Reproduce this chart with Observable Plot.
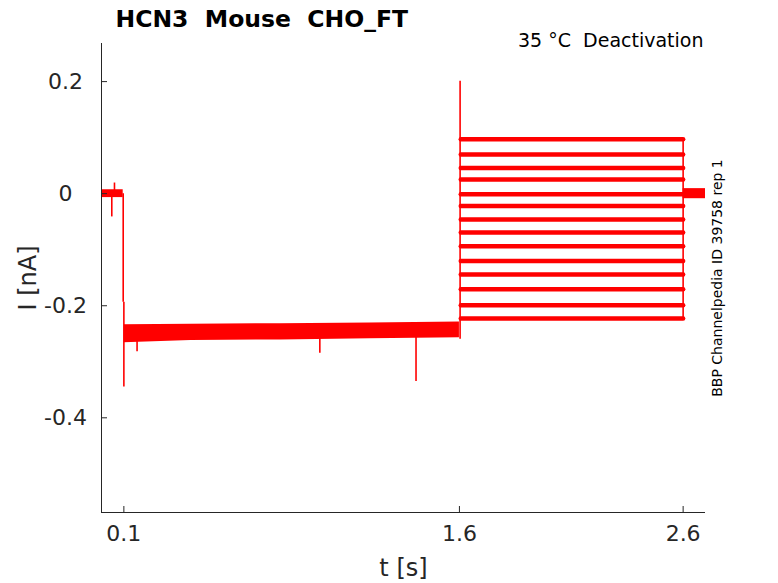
<!DOCTYPE html>
<html>
<head>
<meta charset="utf-8">
<script src="https://cdn.jsdelivr.net/npm/d3@7"></script>
<script src="https://cdn.jsdelivr.net/npm/@observablehq/plot@0.6"></script>
<style>
  html, body { margin: 0; padding: 0; background: white; overflow: hidden; }
  svg text { white-space: pre; }
</style>
</head>
<body>
<div id="chart"></div>
<script>
// ---- data ----
const timeTicks = [0.1, 1.6, 2.6];
const currentTicks = [0.2, 0, -0.2, -0.4];

// holding segment before the conditioning step (noise envelope)
const holdT  = [0.0, 0.097];
const holdHi = [0.007, 0.007];
const holdLo = [-0.007, -0.007];

// conditioning step 0.1 s .. 1.6 s (noise envelope of all sweeps)
const condT  = [0.101, 0.4, 0.8, 1.2, 1.6];
const condHi = [-0.234, -0.233, -0.232, -0.231, -0.229];
const condLo = [-0.266, -0.262, -0.261, -0.259, -0.257];

// test pulses 1.6 s .. 2.6 s, one level per sweep
const testT = [1.606, 2.6];
const testLevels = [0.097, 0.0697, 0.0458, 0.0251, -0.0011, -0.0219, -0.0462,
                    -0.0694, -0.0938, -0.120, -0.1443, -0.1705, -0.199, -0.2228];

// return to holding after 2.6 s
const tailT  = [2.6, 2.7];
const tailHi = [0.009, 0.009];
const tailLo = [-0.009, -0.009];

// transients / spikes
const spikeT    = [0.046, 0.058, 0.097, 0.100, 0.159, 0.976, 1.406, 1.603, 2.600];
const spikeFrom = [-0.005, 0.005, 0.0, -0.194, -0.250, -0.255, -0.255, -0.260, -0.2228];
const spikeTo   = [-0.0415, 0.019, -0.194, -0.345, -0.282, -0.285, -0.335, 0.2005, 0.097];

// ---- tables built from the arrays ----
const hold = holdT.map((t, k) => ({t, hi: holdHi[k], lo: holdLo[k]}));
const cond = condT.map((t, k) => ({t, hi: condHi[k], lo: condLo[k]}));
const tail = tailT.map((t, k) => ({t, hi: tailHi[k], lo: tailLo[k]}));
const test = testLevels.flatMap((v, s) => testT.map(t => ({t, i: v, sweep: s})));
const spikes = spikeT.map((t, k) => ({t, a: spikeFrom[k], b: spikeTo[k]}));

const red = "#ff0000";
const axisColor = "#262626";

const chart = Plot.plot({
  width: 778,
  height: 583,
  marginTop: 43,
  marginBottom: 71,
  marginLeft: 101,
  marginRight: 73,
  style: {fontFamily: "DejaVu Sans", background: "white", overflow: "visible"},
  x: {domain: [0, 2.7], axis: null},
  y: {domain: [-0.569, 0.268], axis: null},
  marks: [
    Plot.areaY(hold, {x: "t", y1: "lo", y2: "hi", fill: red}),
    Plot.areaY(cond, {x: "t", y1: "lo", y2: "hi", fill: red}),
    Plot.areaY(tail, {x: "t", y1: "lo", y2: "hi", fill: red}),
    Plot.line(test, {x: "t", y: "i", z: "sweep", stroke: red, strokeWidth: 4.5}),
    Plot.ruleX(spikes, {x: "t", y1: "a", y2: "b", stroke: red, strokeWidth: 1.6}),
    // axis lines
    Plot.ruleX([0], {stroke: axisColor, strokeWidth: 1}),
    Plot.ruleY([-0.569], {stroke: axisColor, strokeWidth: 1}),
    // ticks (inward)
    Plot.axisX(timeTicks, {anchor: "bottom", tickSize: -6, tickFormat: () => "", label: null, stroke: axisColor}),
    Plot.axisY(currentTicks, {anchor: "left", tickSize: -6, tickFormat: () => "", label: null, stroke: axisColor}),
    // tick labels
    Plot.axisX(timeTicks, {anchor: "bottom", tickSize: 0, tickPadding: 13, fontSize: 22, label: null,
                           fill: axisColor, tickFormat: d => String(d)}),
    Plot.axisY(currentTicks, {anchor: "left", tickSize: 0, tickPadding: 36, fontSize: 22, label: null,
                              textAnchor: "middle", fill: axisColor, tickFormat: d => String(d)}),
    // axis labels
    Plot.text(["t [s]"], {text: d => d, frameAnchor: "bottom", dy: 56, fontSize: 24,
                          textAnchor: "middle", lineAnchor: "middle", fill: axisColor}),
    Plot.text(["I [nA]"], {text: d => d, frameAnchor: "left", dx: -73, rotate: -90, fontSize: 24,
                           textAnchor: "middle", lineAnchor: "middle", fill: axisColor}),
    // titles / annotations
    Plot.text(["HCN3  Mouse  CHO_FT"], {text: d => d, frameAnchor: "top-left", dx: 14, dy: -24,
                                       textAnchor: "start", lineAnchor: "middle",
                                       fontSize: 23.5, fontWeight: "bold", fill: "black"}),
    Plot.text(["35 °C  Deactivation"], {text: d => d, frameAnchor: "top-right", dx: -2, dy: -3,
                                       textAnchor: "end", lineAnchor: "middle", fontSize: 19, fill: "black"}),
    Plot.text(["BBP Channelpedia ID 39758 rep 1"], {text: d => d, frameAnchor: "right", dx: 12,
                                       rotate: -90, textAnchor: "middle", lineAnchor: "middle",
                                       fontSize: 14, fill: "black"})
  ]
});
document.getElementById("chart").appendChild(chart);
</script>
</body>
</html>
